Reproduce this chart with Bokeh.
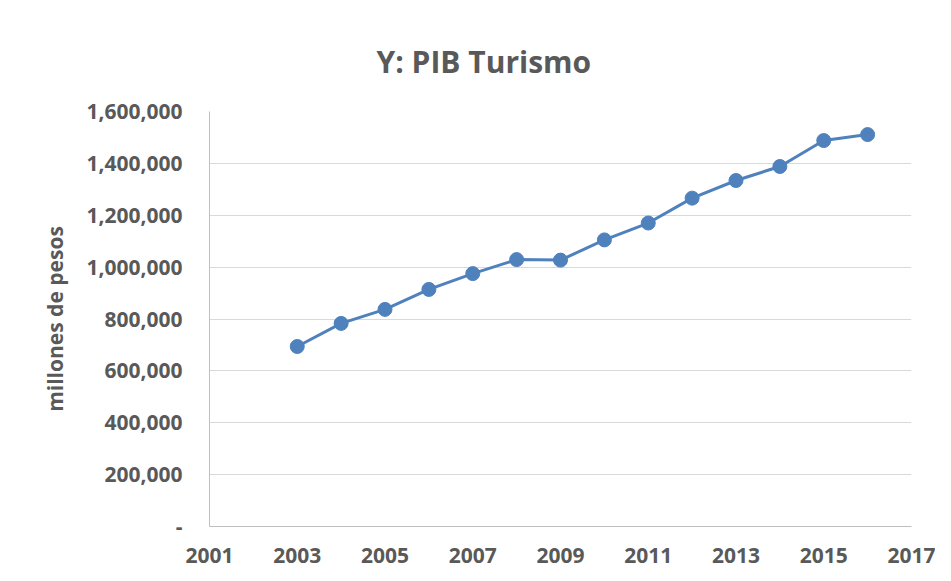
from bokeh.plotting import figure
from bokeh.models import Range1d, FixedTicker, NumeralTickFormatter, Title
from bokeh.embed import file_html
from bokeh.resources import INLINE

years = [2003, 2004, 2005, 2006, 2007, 2008, 2009, 2010, 2011, 2012, 2013, 2014, 2015, 2016]
pib_turismo = [694000, 783000, 837000, 914000, 975000, 1029000, 1027000, 1105000,
               1170000, 1266000, 1334000, 1388000, 1488000, 1511000]
x_ticks = [2001, 2003, 2005, 2007, 2009, 2011, 2013, 2015, 2017]
y_ticks = [0, 200000, 400000, 600000, 800000, 1000000, 1200000, 1400000, 1600000]

FONT = "Open Sans"
GREY = "#595959"
BLUE = "#4F81BD"

p = figure(width=935, height=570, output_backend="svg", toolbar_location=None,
           x_range=Range1d(2001, 2017), y_range=Range1d(0, 1600000),
           min_border_left=209, min_border_right=24, min_border_bottom=44, min_border_top=111)
p.title = None
t = Title(text="Y: PIB Turismo", align="left", offset=167, text_font=FONT,
          text_font_size="30px", text_font_style="bold", text_color=GREY, standoff=59)
p.add_layout(t, "above")

p.outline_line_color = None
p.background_fill_color = "white"
p.border_fill_color = "white"

p.line(years, pib_turismo, line_color=BLUE, line_width=3)
p.scatter(years, pib_turismo, size=14, fill_color=BLUE, line_color=BLUE)

p.xgrid.grid_line_color = None
p.ygrid.grid_line_color = "#D9D9D9"
p.ygrid.grid_line_width = 1

p.xaxis.ticker = FixedTicker(ticks=x_ticks)
p.yaxis.ticker = FixedTicker(ticks=y_ticks)
p.yaxis.formatter = NumeralTickFormatter(format="0,0")
p.yaxis.major_label_overrides = {0: "-"}

for ax in (p.xaxis[0], p.yaxis[0]):
    ax.axis_line_color = "#BFBFBF"
    ax.axis_line_width = 1
    ax.major_tick_line_color = None
    ax.minor_tick_line_color = None
    ax.major_label_text_font = FONT
    ax.major_label_text_font_size = "21px"
    ax.major_label_text_font_style = "bold"
    ax.major_label_text_color = GREY

p.xaxis.major_label_standoff = 15
p.yaxis.major_label_standoff = 21
p.yaxis.axis_label = "millones de pesos"
p.yaxis.axis_label_text_font = FONT
p.yaxis.axis_label_text_font_size = "21px"
p.yaxis.axis_label_text_font_style = "bold"
p.yaxis.axis_label_text_color = GREY
p.yaxis.axis_label_standoff = 14

open("out.html", "w").write(file_html(p, INLINE))
